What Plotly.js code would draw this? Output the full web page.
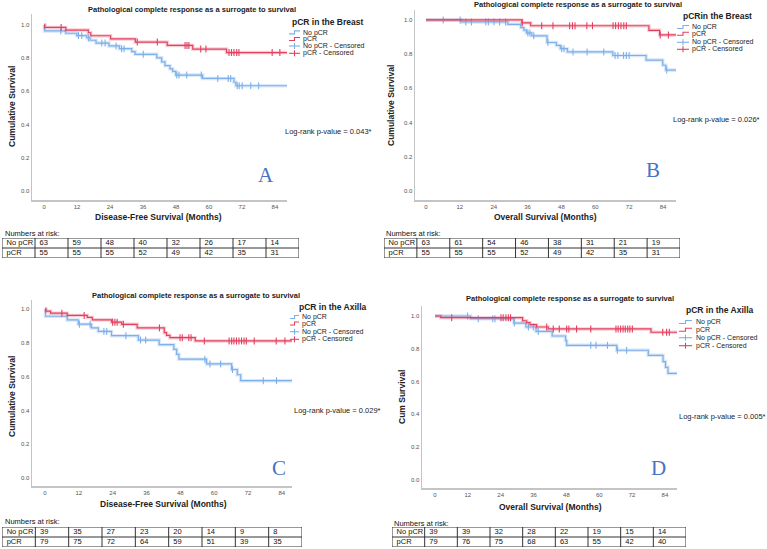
<!DOCTYPE html>
<html>
<head>
<meta charset="utf-8">
<script src="https://cdn.plot.ly/plotly-3.0.1.min.js"></script>
<style>
  html, body { margin: 0; padding: 0; background: #fff; }
  #plot { width: 767px; height: 549px; }
</style>
</head>
<body>
<div id="plot"></div>
<script>
// ---- data (months, cumulative survival) ----
// A: disease-free survival, pCR in the breast
var noA_t = [0, 0.2, 7.9, 11.9, 15.5, 16.7, 18.9, 23.6, 27.4, 31.9, 33.1, 41, 42.8, 44, 45.8, 46.8, 47.9, 57.7, 69.1, 69.8, 88.4];
var noA_s = [1, 0.964, 0.950, 0.936, 0.923, 0.908, 0.891, 0.874, 0.857, 0.840, 0.823, 0.802, 0.778, 0.755, 0.736, 0.720, 0.698, 0.678, 0.655, 0.634, 0.634];
var noA_c = [6.1, 12.5, 13.7, 16.1, 21, 22.2, 26.2, 28.2, 29.1, 36.1, 48.3, 49.1, 51.9, 57.2, 63.2, 67, 67.9, 70.3, 71, 72.1, 75.2, 78.1];
var pcrA_t = [0, 0.2, 7.9, 16.1, 17, 24.2, 33.2, 44.8, 54.1, 66.4, 88.4];
var pcrA_s = [1, 0.985, 0.969, 0.953, 0.935, 0.916, 0.897, 0.877, 0.855, 0.834, 0.834];
var pcrA_c = [6.2, 33.9, 41.2, 51.3, 52, 52.7, 57, 58.9, 67.3, 68.2, 69.1, 70.1, 70.9, 83, 85.8];

// B: overall survival, pCR in the breast
var noB_t = [0, 12.6, 29, 33.6, 34.7, 35.6, 37.5, 42.9, 46.2, 47.6, 50.1, 66.2, 78, 83.9, 85, 88.6];
var noB_s = [1, 0.988, 0.974, 0.955, 0.940, 0.924, 0.907, 0.868, 0.851, 0.832, 0.813, 0.792, 0.765, 0.735, 0.707, 0.707];
var noB_c = [6.1, 12.1, 14.1, 16.1, 21.2, 22.1, 24.1, 26.1, 28.2, 36.1, 36.8, 38.2, 43.2, 48.1, 48.9, 52.1, 57.1, 63, 67, 68, 70, 71, 72, 85.3];
var pcrB_t = [0, 34, 37.1, 79, 82.8, 88.6];
var pcrB_s = [1, 0.983, 0.966, 0.939, 0.912, 0.912];
var pcrB_c = [34.1, 41, 45, 50.9, 51.9, 52.8, 57, 59, 66.3, 67.2, 68.2, 69.1, 70.1, 71, 83, 85.9];

// C: disease-free survival, pCR in the axilla
var noC_t = [0, 0.2, 7.9, 11.8, 16.5, 18.9, 23.6, 33.1, 40.5, 45.7, 46.7, 47.5, 57.3, 66.2, 68.2, 69.4, 87.6];
var noC_s = [1, 0.957, 0.935, 0.910, 0.888, 0.867, 0.842, 0.816, 0.789, 0.761, 0.732, 0.703, 0.675, 0.642, 0.611, 0.576, 0.576];
var noC_c = [12.2, 16, 20.9, 21.9, 28.7, 33.9, 35.7, 56.7, 58.5, 62.3, 66.5, 77.4, 82.1];
var pcrC_t = [0, 0.3, 2, 7.9, 15, 16.8, 23.6, 27.2, 32.7, 42.3, 43.1, 44.3, 53.3, 87.6];
var pcrC_s = [1, 0.987, 0.975, 0.962, 0.950, 0.936, 0.922, 0.909, 0.888, 0.860, 0.844, 0.830, 0.811, 0.811];
var pcrC_c = [6, 13.9, 24, 24.8, 25.6, 27.8, 40.6, 47.9, 48.7, 51, 51.8, 56.5, 65.3, 66.2, 67, 67.9, 68.8, 69.7, 70.6, 71.4, 74.2, 82, 85.1];

// D: overall survival, pCR in the axilla
var noD_t = [0, 13, 28.8, 33.2, 36.9, 42.8, 47.7, 48.1, 66.4, 77.9, 83.3, 84.2, 85.1, 88.4];
var noD_s = [1, 0.984, 0.957, 0.933, 0.906, 0.878, 0.850, 0.821, 0.791, 0.760, 0.722, 0.687, 0.650, 0.650];
var noD_c = [11.9, 15.8, 21.1, 21.9, 29, 34.1, 35.9, 37.7, 56.9, 58.8, 63, 66.6, 70];
var pcrD_t = [0, 2.1, 32, 33.5, 34.7, 37.1, 41.4, 78.9, 88.4];
var pcrD_s = [1, 0.990, 0.971, 0.959, 0.947, 0.933, 0.921, 0.901, 0.901];
var pcrD_c = [6.1, 24.1, 24.9, 25.9, 26.8, 27.6, 40.8, 43.2, 45.4, 48.1, 48.9, 51.7, 56.9, 66.1, 66.9, 67.8, 68.7, 69.5, 70.4, 71.2, 72.1, 83.2, 84.6, 85.6];

// numbers at risk at 0, 12, ..., 84 months
var riskA_no = [63, 59, 48, 40, 32, 26, 17, 14];
var riskA_pcr = [55, 55, 55, 52, 49, 42, 35, 31];
var riskB_no = [63, 61, 54, 46, 38, 31, 21, 19];
var riskB_pcr = [55, 55, 55, 52, 49, 42, 35, 31];
var riskC_no = [39, 35, 27, 23, 20, 14, 9, 8];
var riskC_pcr = [79, 75, 72, 64, 59, 51, 39, 35];
var riskD_no = [39, 39, 32, 28, 22, 19, 15, 14];
var riskD_pcr = [79, 76, 75, 68, 63, 55, 42, 40];

var rowLabels = ['No pCR', 'pCR'];
var monthTicks = [0, 12, 24, 36, 48, 60, 72, 84];
var survTicks = [0, 0.2, 0.4, 0.6, 0.8, 1.0];

var BLUE = '#7db0ea', RED = '#e3405f';
var W = 767, H = 549;
function px(x) { return x / W; }
function py(y) { return 1 - y / H; }

// survival value of a step curve at time t
function stepAt(ts, ss, t) {
  var v = ss[0];
  for (var i = 0; i < ts.length; i++) { if (ts[i] <= t) v = ss[i]; }
  return v;
}

var panels = [
  { k: '', kn: 1, no: [noA_t, noA_s, noA_c], pcr: [pcrA_t, pcrA_s, pcrA_c], risk: [riskA_no, riskA_pcr],
    box: [32, 287, 14, 200], xr: [-4.4, 88.4], yr: [-0.054, 1.066],
    table: [2, 299, 238, 258], riskLbl: [3, 233],
    title: [192, 10], ytitle: ['Cumulative Survival', 12, 107], xtitle: ['Disease-Free Survival (Months)', 158, 217],
    leg: { title: 'pCR in the Breast', tx: 290, ty: 22, ix0: 289, ix1: 300, txt: 301, ys: [32.7, 39.3, 46, 53.3] },
    logrank: ['Log-rank p-value = 0.043*', 283, 131.7], letter: ['A', 266, 175] },
  { k: '2', kn: 2, no: [noB_t, noB_s, noB_c], pcr: [pcrB_t, pcrB_s, pcrB_c], risk: [riskB_no, riskB_pcr],
    box: [415, 676, 10, 200], xr: [-3.9, 88.6], yr: [-0.053, 1.058],
    table: [384, 680, 238, 258], riskLbl: [384, 233],
    title: [578, 5], ytitle: ['Cumulative Survival', 391, 105], xtitle: ['Overall Survival (Months)', 545, 217],
    leg: { title: 'pCRin the Breast', tx: 681, ty: 16, ix0: 677, ix1: 689, txt: 690, ys: [27.3, 34, 42.3, 49.3] },
    logrank: ['Log-rank p-value = 0.026*', 671, 119.3], letter: ['B', 653, 170] },
  { k: '3', kn: 3, no: [noC_t, noC_s, noC_c], pcr: [pcrC_t, pcrC_s, pcrC_c], risk: [riskC_no, riskC_pcr],
    box: [32, 292, 300, 486], xr: [-4.6, 87.6], yr: [-0.047, 1.053],
    table: [2, 302, 527, 547], riskLbl: [3, 521],
    title: [196, 295], ytitle: ['Cumulative Survival', 12, 397], xtitle: ['Disease-Free Survival (Months)', 163, 504],
    leg: { title: 'pCR in the Axilla', tx: 297, ty: 307, ix0: 290, ix1: 299, txt: 300, ys: [317.3, 323.8, 331.7, 339.3] },
    logrank: ['Log-rank p-value = 0.029*', 292, 410.7], letter: ['C', 279, 468] },
  { k: '4', kn: 4, no: [noD_t, noD_s, noD_c], pcr: [pcrD_t, pcrD_s, pcrD_c], risk: [riskD_no, riskD_pcr],
    box: [422, 677, 306, 488], xr: [-4.75, 88.4], yr: [-0.049, 1.061],
    table: [392, 686, 527, 547], riskLbl: [392, 523],
    title: [570, 298], ytitle: ['Cum Survival', 402, 397], xtitle: ['Overall Survival (Months)', 550, 507],
    leg: { title: 'pCR in the Axilla', tx: 684, ty: 310, ix0: 679, ix1: 692, txt: 694, ys: [322.3, 330, 337.7, 345.7] },
    logrank: ['Log-rank p-value = 0.005*', 677, 416.7], letter: ['D', 658, 468] }
];

var data = [];
var annotations = [];
var shapes = [];
var layout = {
  width: W, height: H,
  margin: { l: 0, r: 0, t: 0, b: 0 },
  paper_bgcolor: '#fff', plot_bgcolor: '#fff',
  font: { family: 'Liberation Sans, Arial, sans-serif', color: '#222' },
  showlegend: false
};

panels.forEach(function(p) {
  var xa = 'x' + p.k, ya = 'y' + p.k;
  var tk = String(p.kn + 4);

  layout['xaxis' + p.k] = {
    domain: [px(p.box[0]), px(p.box[1])], range: p.xr, anchor: ya,
    showgrid: false, zeroline: false, showline: true, linecolor: '#c4c4c4', linewidth: 1.5,
    ticks: '', tickvals: monthTicks, tickfont: { size: 6, color: '#555' }
  };
  layout['yaxis' + p.k] = {
    domain: [py(p.box[3]), py(p.box[2])], range: p.yr, anchor: xa,
    showgrid: false, zeroline: false, showline: true, linecolor: '#c4c4c4', linewidth: 1.5,
    ticks: '', tickvals: survTicks, tickformat: '.1f', tickfont: { size: 6, color: '#555' }
  };

  // curves: soft halo + line, then censor ticks
  [[p.no, BLUE, 'rgba(125,176,234,0.3)'], [p.pcr, RED, 'rgba(227,64,95,0.25)']].forEach(function(g) {
    var t = g[0][0], s = g[0][1], c = g[0][2];
    data.push({ x: t, y: s, xaxis: xa, yaxis: ya, type: 'scatter', mode: 'lines',
      line: { shape: 'hv', color: g[2], width: 3.5 }, hoverinfo: 'skip' });
    data.push({ x: t, y: s, xaxis: xa, yaxis: ya, type: 'scatter', mode: 'lines',
      line: { shape: 'hv', color: g[1], width: 1.2 } });
    data.push({ x: c, y: c.map(function(v) { return stepAt(t, s, v); }), xaxis: xa, yaxis: ya,
      type: 'scatter', mode: 'markers',
      marker: { symbol: 'line-ns', size: 5, line: { width: 1.1, color: g[1] } } });
  });

  // numbers-at-risk table on its own hidden axes: 9 columns, 2 rows
  layout['xaxis' + tk] = { domain: [px(p.table[0]), px(p.table[1])], range: [0, 9], visible: false, fixedrange: true, anchor: 'y' + tk };
  layout['yaxis' + tk] = { domain: [py(p.table[3]), py(p.table[2])], range: [0, 2], visible: false, fixedrange: true, anchor: 'x' + tk };
  var rows = [[rowLabels[0]].concat(p.risk[0]), [rowLabels[1]].concat(p.risk[1])];
  rows.forEach(function(r, ri) {
    data.push({ x: r.map(function(_, i) { return i + 0.14; }), y: r.map(function() { return 1.5 - ri; }),
      text: r.map(String), xaxis: 'x' + tk, yaxis: 'y' + tk, type: 'scatter', mode: 'text',
      textposition: 'middle right', textfont: { size: 7.5, color: '#111' }, hoverinfo: 'skip', cliponaxis: false });
  });
  shapes.push({ type: 'rect', xref: 'x' + tk, yref: 'y' + tk, x0: 0, x1: 9, y0: 0, y1: 2, line: { color: '#333', width: 1 } });
  shapes.push({ type: 'line', xref: 'x' + tk, yref: 'y' + tk, x0: 0, x1: 9, y0: 1, y1: 1, line: { color: '#333', width: 1 } });
  for (var i = 1; i < 9; i++) {
    shapes.push({ type: 'line', xref: 'x' + tk, yref: 'y' + tk, x0: i, x1: i, y0: 0, y1: 2, line: { color: '#333', width: 1 } });
  }

  function note(text, x, y, opt) {
    var a = { text: text, x: px(x), y: py(y), xref: 'paper', yref: 'paper', showarrow: false,
      xanchor: 'left', yanchor: 'middle', font: { size: 7.5, color: '#222' } };
    for (var key in opt) a[key] = opt[key];
    annotations.push(a);
  }

  note('Numbers at risk:', p.riskLbl[0], p.riskLbl[1], { font: { size: 7.5, color: '#111' } });
  note('<b>Pathological complete response as a surrogate to survival</b>', p.title[0], p.title[1],
    { xanchor: 'center', font: { size: 7.5, color: '#222' } });
  note('<b>' + p.ytitle[0] + '</b>', p.ytitle[1], p.ytitle[2],
    { xanchor: 'center', textangle: -90, font: { size: 8.5, color: '#222' } });
  note('<b>' + p.xtitle[0] + '</b>', p.xtitle[1], p.xtitle[2],
    { xanchor: 'center', font: { size: 8.5, color: '#222' } });
  note(p.logrank[0], p.logrank[1], p.logrank[2], { font: { size: 7.5, color: '#222' } });
  note(p.letter[0], p.letter[1], p.letter[2],
    { xanchor: 'center', font: { size: 21, color: '#4673c2', family: 'Liberation Serif, DejaVu Serif, serif' } });

  // legend block drawn by hand (SPSS packs the entries tighter than Plotly's legend allows)
  var L = p.leg;
  note('<b>' + L.title + '</b>', L.tx, L.ty, { font: { size: 8.5, color: '#222' } });
  var names = ['No pCR', 'pCR', 'No pCR - Censored', 'pCR - Censored'];
  var cols = [BLUE, RED, BLUE, RED];
  names.forEach(function(n, j) {
    var y = L.ys[j];
    note(n, L.txt, y, { font: { size: 7, color: '#222' } });
    var xm = (L.ix0 + L.ix1) / 2;
    if (j < 2) {
      shapes.push({ type: 'path', xref: 'paper', yref: 'paper',
        path: 'M' + px(L.ix0) + ',' + py(y + 1.2) + ' L' + px(xm) + ',' + py(y + 1.2) +
              ' L' + px(xm) + ',' + py(y - 1.8) + ' L' + px(L.ix1) + ',' + py(y - 1.8),
        line: { color: cols[j], width: 1.1 } });
    } else {
      shapes.push({ type: 'line', xref: 'paper', yref: 'paper', x0: px(L.ix0), x1: px(L.ix1), y0: py(y), y1: py(y),
        line: { color: cols[j], width: 1.1 } });
      shapes.push({ type: 'line', xref: 'paper', yref: 'paper', x0: px(xm), x1: px(xm), y0: py(y - 3), y1: py(y + 3),
        line: { color: cols[j], width: 1.1 } });
    }
  });
});

layout.annotations = annotations;
layout.shapes = shapes;

Plotly.newPlot('plot', data, layout, { staticPlot: true, displayModeBar: false });
</script>
</body>
</html>
